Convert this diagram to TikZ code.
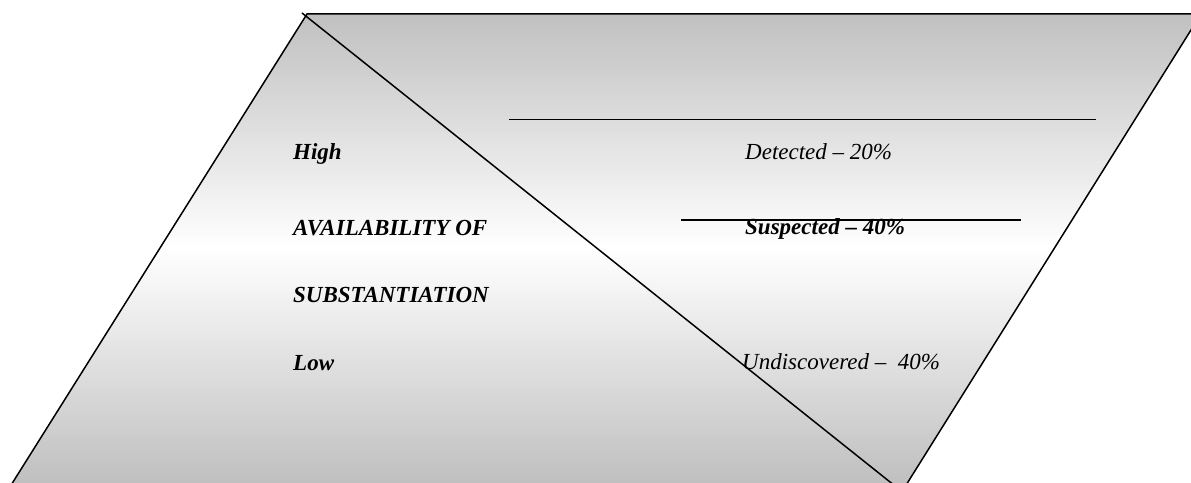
\documentclass[tikz,border=0pt]{standalone}
\usepackage{fontspec}
\setmainfont{Liberation Serif}
\definecolor{silv}{RGB}{192,192,192}
\begin{document}
\begin{tikzpicture}[x=1pt,y=1pt,
  lbl/.style={anchor=base west,inner sep=0pt,font=\fontsize{23}{27}\selectfont\itshape},
  blbl/.style={lbl,font=\fontsize{23}{27}\selectfont\bfseries\itshape},
  edge/.style={line width=1.5pt,black}]
\useasboundingbox (0,0) rectangle (1191,482);
\clip (0,0) rectangle (1191,482);
\coordinate (BL) at (11.1,-3);
\coordinate (TL) at (307,468);
\coordinate (TR) at (1201,468);
\coordinate (BR) at (906.1,-3);
\begin{scope}
\clip (BL) -- (TL) -- (TR) -- (BR) -- cycle;
\foreach \i in {0,...,119}{
  \pgfmathsetmacro{\ya}{-3+\i*4}
  \pgfmathsetmacro{\yb}{\ya+4.6}
  \pgfmathsetmacro{\pc}{abs((\ya+2-234)/234)*100}
  \fill[silv!\pc!white] (0,\ya) rectangle (1191,\yb);
}
\end{scope}
\draw[edge] (BL) -- (TL) -- (TR) -- (BR);
\coordinate (D1) at (302,469);
\coordinate (D2) at (893.8,-3);
\draw[edge] (D1) -- (D2);
\coordinate (H1a) at (509,362.5);
\coordinate (H1b) at (1096,362.5);
\draw[edge] (H1a) -- (H1b);
\coordinate (H2a) at (681,262);
\coordinate (H2b) at (1021,262);
\draw[edge] (H2a) -- (H2b);
\node[blbl] (high) at (293,322) {High};
\node[blbl] (avail) at (293,246) {AVAILABILITY OF};
\node[blbl] (subst) at (293,179) {SUBSTANTIATION};
\node[blbl] (low) at (293,111) {Low};
\node[lbl] (det) at (745,322) {Detected – 20\%};
\node[blbl] (susp) at (745,247) {Suspected – 40\%};
\node[lbl] (undis) at (742,112) {Undiscovered –\ \ 40\%};
\end{tikzpicture}
\end{document}
